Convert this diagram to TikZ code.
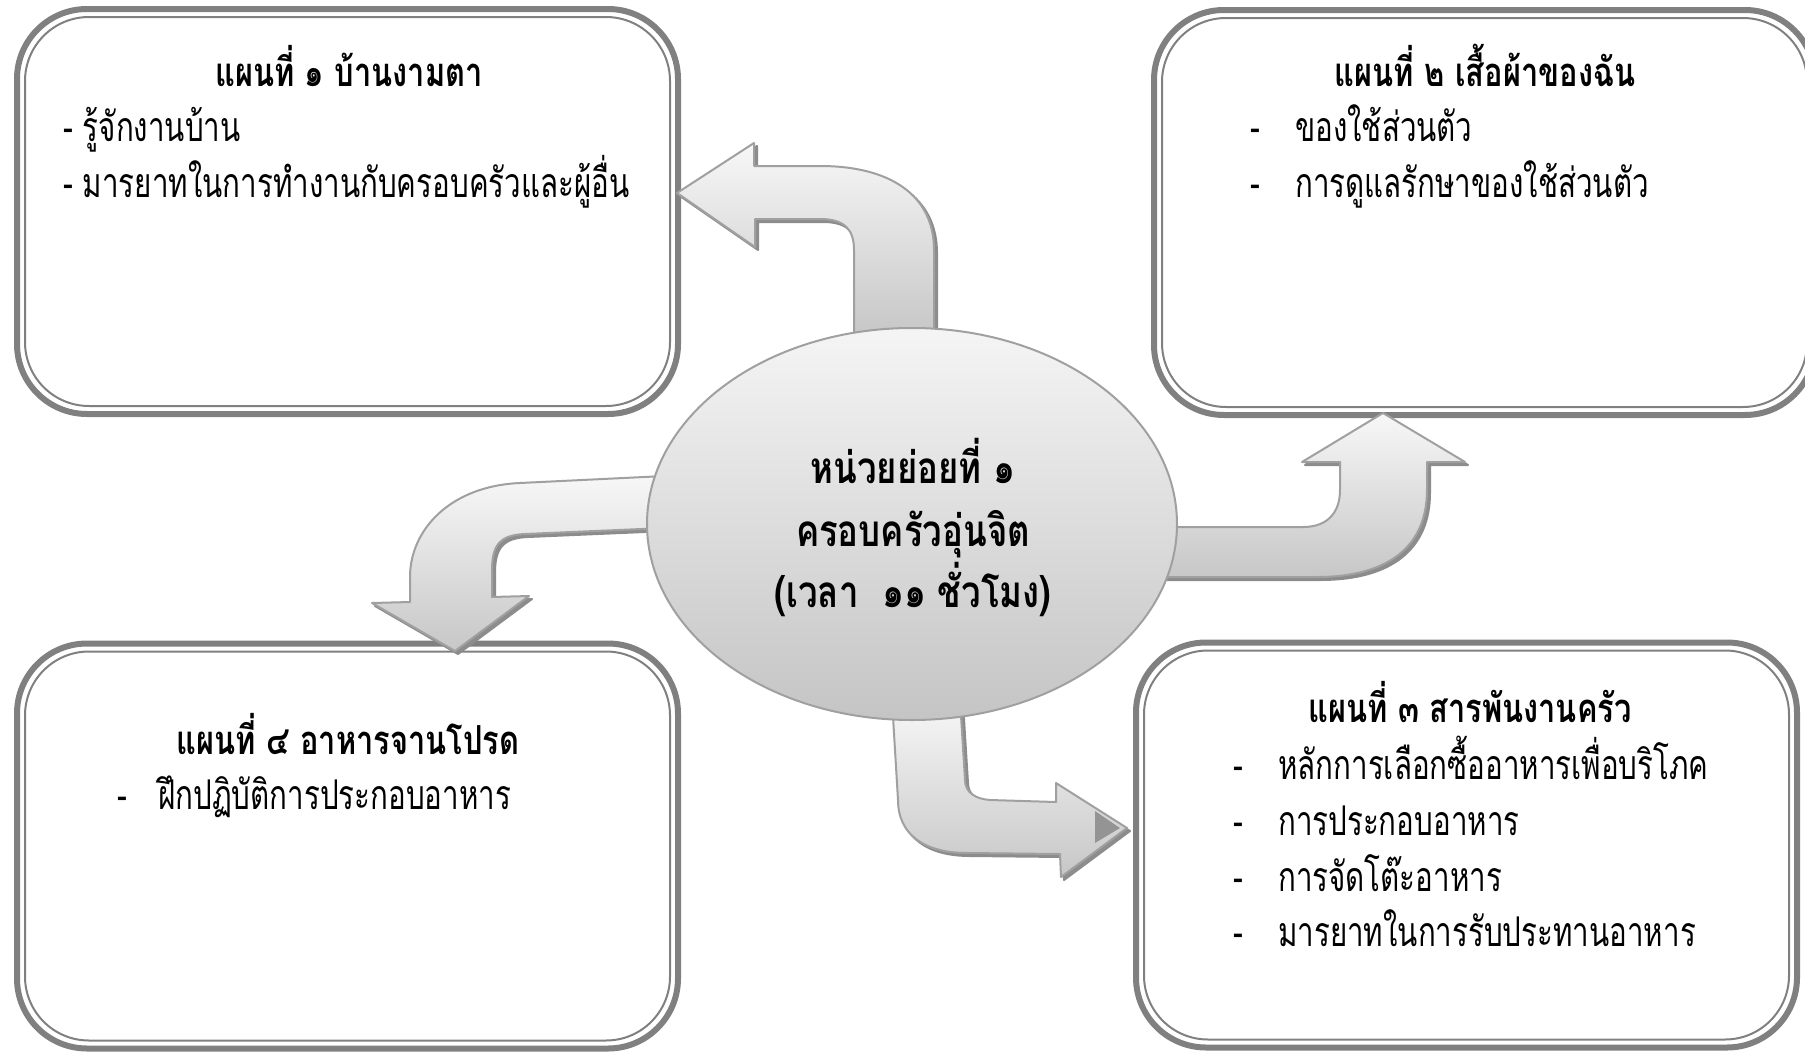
\documentclass[tikz,border=0pt]{standalone}
\usepackage{fontspec}
\newfontfamily\thaibody[Script=Thai,FakeStretch=0.72]{Loma}
\newfontfamily\thaititle[Script=Thai,FakeStretch=0.77]{Loma}
\newfontfamily\thaihub[Script=Thai,FakeStretch=0.79]{Loma}
\usetikzlibrary{shapes.geometric}
\definecolor{boxgray}{RGB}{128,128,128}
\definecolor{arrowline}{RGB}{160,160,160}
\definecolor{shadowgray}{RGB}{140,140,140}
\begin{document}
\begin{tikzpicture}[x=1pt,y=-1pt,
  boxout/.style={draw=boxgray, line width=6pt, rounded corners=70pt, minimum width=661pt, minimum height=405pt, inner sep=0pt},
  boxin/.style={draw=boxgray, line width=2pt, rounded corners=64pt, minimum width=645pt, minimum height=389pt, inner sep=0pt},
  titletext/.style={font=\thaititle\bfseries\fontsize{40}{44}\selectfont, inner sep=0pt, anchor=base},
  bodytext/.style={font=\thaibody\fontsize{41}{44}\selectfont, inner sep=0pt, anchor=base west},
  centertext/.style={font=\thaihub\bfseries\fontsize{44}{48}\selectfont, inner sep=0pt, anchor=base},
  blockarrow/.style={top color=white!97!black, bottom color=black!22, draw=arrowline, line width=2pt, line join=round},
  arrowshadow/.style={fill=shadowgray, draw=shadowgray, line width=2pt, line join=round},
  hub/.style={ellipse, minimum width=530pt, minimum height=392pt, inner sep=0pt, top color=white!96!black, bottom color=black!23, draw=arrowline, line width=2pt}
]
\useasboundingbox (0,0) rectangle (1805,1052);

% boxes
\node[boxout] (b1) at (347.5,211.5) {};
\node[boxin] (b1i) at (b1.center) {};
\node[boxout] (b2) at (1484.5,212.5) {};
\node[boxin] (b2i) at (b2.center) {};
\node[boxout] (b3) at (1466.5,845) {};
\node[boxin] (b3i) at (b3.center) {};
\node[boxout] (b4) at (347.5,846) {};
\node[boxin] (b4i) at (b4.center) {};

% arrow A (up, then left to box 1)
\path[arrowshadow, shift={(3,3)}] (854,335) -- (854,250) .. controls (854,230) and (845,219) .. (820,219) -- (755,219) -- (755,247) -- (677,193) -- (754,143) -- (754,166) -- (820,166) .. controls (890,166) and (934,195) .. (934,250) -- (934,335) -- cycle;
\path[blockarrow] (854,335) -- (854,250) .. controls (854,230) and (845,219) .. (820,219) -- (755,219) -- (755,247) -- (677,193) -- (754,143) -- (754,166) -- (820,166) .. controls (890,166) and (934,195) .. (934,250) -- (934,335) -- cycle;

% arrow B (right, then up to box 2)
\path[arrowshadow, shift={(3,3)}] (1150,527) -- (1303,527) .. controls (1328,527) and (1340,512) .. (1340,490) -- (1340,462) -- (1302,462) -- (1383,413) -- (1465,462) -- (1427,462) -- (1427,490) .. controls (1427,545) and (1390,577) .. (1317,577) -- (1150,577) -- cycle;
\path[blockarrow] (1150,527) -- (1303,527) .. controls (1328,527) and (1340,512) .. (1340,490) -- (1340,462) -- (1302,462) -- (1383,413) -- (1465,462) -- (1427,462) -- (1427,490) .. controls (1427,545) and (1390,577) .. (1317,577) -- (1150,577) -- cycle;

% arrow C (left, then down to box 4)
\path[arrowshadow, shift={(3,3)}] (665,476) -- (520,483) .. controls (450,486) and (410,530) .. (410,577) -- (410,602) -- (372,603) -- (455,651) -- (529,596) -- (492,597) -- (492,570) .. controls (492,545) and (500,535) .. (525,534) -- (665,528) -- cycle;
\path[blockarrow] (665,476) -- (520,483) .. controls (450,486) and (410,530) .. (410,577) -- (410,602) -- (372,603) -- (455,651) -- (529,596) -- (492,597) -- (492,570) .. controls (492,545) and (500,535) .. (525,534) -- (665,528) -- cycle;

% arrow D (down, then right to box 3)
\path[arrowshadow, shift={(3,3)}] (892,700) -- (898,800) .. controls (898,835) and (925,853) .. (967,853) -- (1060,854) -- (1061,877) -- (1127,828) -- (1056,783) -- (1056,802) -- (990,800) .. controls (975,799) and (965,792) .. (965,780) -- (960,700) -- cycle;
\path[blockarrow] (892,700) -- (898,800) .. controls (898,835) and (925,853) .. (967,853) -- (1060,854) -- (1061,877) -- (1127,828) -- (1056,783) -- (1056,802) -- (990,800) .. controls (975,799) and (965,792) .. (965,780) -- (960,700) -- cycle;
\fill[black!42] (1095,811) -- (1120,828) -- (1095,843) -- cycle;

% hub
\node[hub] (hub) at (912,524) {};
\node[centertext] (h1) at (913,483) {หน่วยย่อยที่ ๑};
\node[centertext] (h2) at (913,546) {ครอบครัวอุ่นจิต};
\node[centertext] (h3) at (913,607) {(เวลา\ \ ๑๑ ชั่วโมง)};

% box 1 text
\node[titletext] (t1) at (349,86) {แผนที่ ๑ บ้านงามตา};
\node[bodytext] (i11) at (63,141) {- รู้จักงานบ้าน};
\node[bodytext] (i12) at (63,197) {- มารยาทในการทำงานกับครอบครัวและผู้อื่น};

% box 2 text
\node[titletext] (t2) at (1485,86) {แผนที่ ๒ เสื้อผ้าของฉัน};
\node[bodytext] (d21) at (1250,141) {-};
\node[bodytext] (i21) at (1295,141) {ของใช้ส่วนตัว};
\node[bodytext] (d22) at (1250,197) {-};
\node[bodytext] (i22) at (1295,197) {การดูแลรักษาของใช้ส่วนตัว};

% box 3 text
\node[titletext] (t3) at (1470,722) {แผนที่ ๓ สารพันงานครัว};
\node[bodytext] (d31) at (1233,779) {-};
\node[bodytext] (i31) at (1278,779) {หลักการเลือกซื้ออาหารเพื่อบริโภค};
\node[bodytext] (d32) at (1233,835) {-};
\node[bodytext] (i32) at (1278,835) {การประกอบอาหาร};
\node[bodytext] (d33) at (1233,891) {-};
\node[bodytext] (i33) at (1278,891) {การจัดโต๊ะอาหาร};
\node[bodytext] (d34) at (1233,946) {-};
\node[bodytext] (i34) at (1278,946) {มารยาทในการรับประทานอาหาร};

% box 4 text
\node[titletext] (t4) at (348,754) {แผนที่ ๔ อาหารจานโปรด};
\node[bodytext] (d41) at (117,809) {-};
\node[bodytext] (i41) at (158,809) {ฝึกปฏิบัติการประกอบอาหาร};
\end{tikzpicture}
\end{document}
